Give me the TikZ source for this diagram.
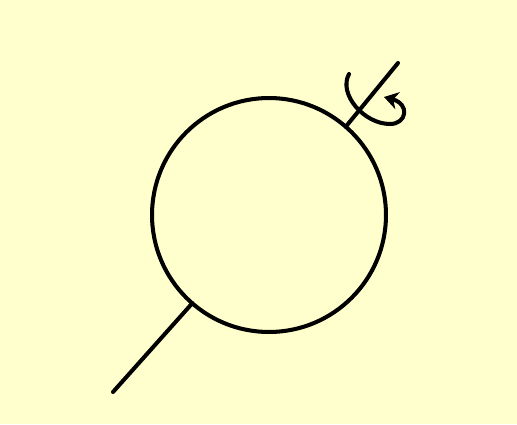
\documentclass[tikz,border=0pt]{standalone}
\usetikzlibrary{arrows.meta}
\definecolor{paper}{RGB}{255,255,206}
\begin{document}
\begin{tikzpicture}[x=0.02cm,y=0.02cm,line width=2.3pt,
  ball/.style={circle,draw,inner sep=0pt,outer sep=0pt,minimum size=4.68cm}]
\fill[paper] (0,0) rectangle (517,424);
\node[ball] (ball) at (269,209) {};
\coordinate (north) at (398,361);
\coordinate (south) at (113,32);
\draw[line cap=round] (ball.49) -- (north);
\draw[line cap=round] (ball.229) -- (south);
% spin arrow round the axis
\draw[line cap=round,-{Stealth[length=8pt,width=10pt]}] (349,350) .. controls (338,330) and (364,300) .. (390,300)
  .. controls (407,300) and (410,320) .. (384,327);
\end{tikzpicture}
\end{document}
